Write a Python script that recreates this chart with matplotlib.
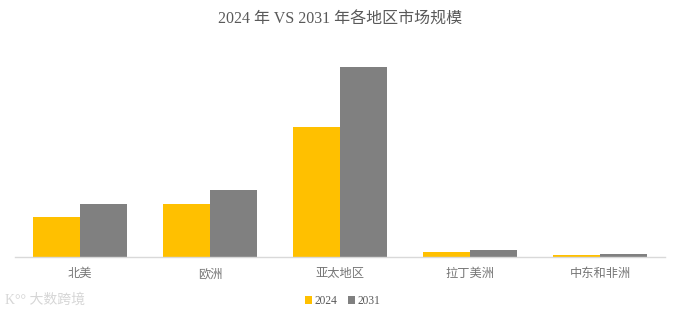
import numpy as np
import matplotlib.pyplot as plt

plt.rcParams['font.family'] = ['Liberation Serif', 'Noto Sans CJK SC', 'DejaVu Sans']

regions = ['北美', '欧洲', '亚太地区', '拉丁美洲', '中东和非洲']
years = ['2024', '2031']
size_2024 = [40.0, 53.6, 130.6, 5.0, 2.6]
size_2031 = [53.0, 67.6, 190.3, 7.0, 3.3]

c_2024 = '#FFC000'
c_2031 = '#808080'
txt = '#595959'

fig = plt.figure(figsize=(6.81, 3.22), dpi=100)
ax = fig.add_axes([15 / 681, (322 - 257.3) / 322, 650 / 681, 207.3 / 322])

x = np.arange(len(regions))
w = 0.365
ax.bar(x - w / 2, size_2024, w, color=c_2024, label=years[0])
ax.bar(x + w / 2, size_2031, w, color=c_2031, label=years[1])

ax.set_xlim(-0.5, len(regions) - 0.5)
ax.set_ylim(0, 207.3)
ax.set_yticks([])
ax.set_xticks(x)
ax.set_xticklabels(regions, fontsize=8.8, color='#767676')
ax.tick_params(axis='x', length=0, pad=8)
for s in ['top', 'right', 'left']:
    ax.spines[s].set_visible(False)
ax.spines['bottom'].set_color('#d9d9d9')
ax.spines['bottom'].set_linewidth(1)

fig.text(0.5, 1 - 20 / 322, '2024 年 VS 2031 年各地区市场规模', ha='center', va='center',
         fontsize=11.5, color=txt)

leg = fig.legend(loc='center', bbox_to_anchor=(343 / 681, 1 - 301 / 322), ncol=2,
                 frameon=False, fontsize=8.3, handlelength=0.6, handleheight=0.6,
                 handletextpad=0.25, columnspacing=0.9)
for t in leg.get_texts():
    t.set_color(txt)

# watermark
fig.text(5 / 681, 1 - 300 / 322, 'K°° 大数跨境', ha='left', va='center',
         fontsize=10, color='#d6d6d6')

fig.savefig('out.png', dpi=100)
